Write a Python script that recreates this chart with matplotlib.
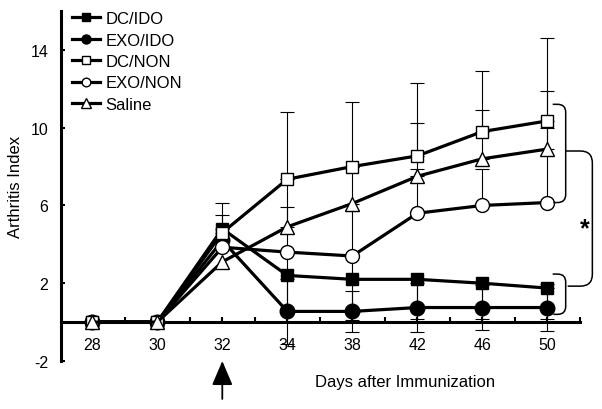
import matplotlib
matplotlib.use("Agg")
import matplotlib.pyplot as plt
import numpy as np
from matplotlib.path import Path
from matplotlib.patches import PathPatch

plt.rcParams["font.family"] = ["Liberation Sans", "DejaVu Sans"]
plt.rcParams["axes.unicode_minus"] = False

days = ["28", "30", "32", "34", "38", "42", "46", "50"]

dc_ido = [0, 0, 4.8, 2.4, 2.2, 2.2, 2.0, 1.75]
exo_ido = [0, 0, 4.2, 0.55, 0.55, 0.75, 0.75, 0.75]
dc_non = [0, 0, 4.6, 7.35, 8.0, 8.55, 9.8, 10.35]
exo_non = [0, 0, 3.85, 3.6, 3.4, 5.6, 6.0, 6.15]
saline = [0, 0, 3.1, 4.9, 6.1, 7.5, 8.4, 8.9]

# error bars (lower, upper)
dc_ido_lo = [0, 0, 0, 1.9, 2.1, 2.05, 1.85, 1.6]
dc_ido_hi = [0, 0, 1.35, 1.2, 1.2, 0, 0, 0]
exo_ido_lo = [0, 0, 0, 1.65, 1.05, 1.25, 1.15, 1.2]
exo_ido_hi = [0, 0, 0, 1.65, 1.05, 1.25, 1.15, 1.2]
dc_non_hi = [0, 0, 0.9, 3.45, 3.3, 3.75, 3.1, 4.25]
exo_non_hi = [0, 0, 0, 2.3, 2.3, 2.3, 1.9, 3.85]
saline_hi = [0, 0, 0, 2.45, 1.9, 2.75, 2.5, 3.0]

# significance bracket levels
sig_top = 8.8
sig_bot = 1.85

fig = plt.figure(figsize=(6.02, 4.10), dpi=100)
ax = fig.add_axes([61 / 602, 48 / 410, 519 / 602, 350 / 410])
x = np.arange(len(days))
ax.set_xlim(-0.48, 7.5)
ax.set_ylim(-2, 16)


def draw_series(y, lo, hi, marker, ms, filled, label, z):
    y = np.asarray(y, float)
    lo = np.asarray(lo, float)
    hi = np.asarray(hi, float)
    keep = (lo > 0) | (hi > 0)
    ax.errorbar(x[keep], y[keep], yerr=[lo[keep], hi[keep]], fmt="none",
                ecolor="black", elinewidth=0.8, capsize=5, capthick=0.8, zorder=1)
    line, = ax.plot(x, y, color="black", lw=2.3, marker=marker, ms=ms,
                    mfc="black" if filled else "white", mec="black", mew=1.0,
                    label=label, zorder=z)
    return line


zeros = [0] * len(days)
h_exo_ido = draw_series(exo_ido, exo_ido_lo, exo_ido_hi, "o", 10.5, True, "EXO/IDO", 3)
h_dc_ido = draw_series(dc_ido, dc_ido_lo, dc_ido_hi, "s", 9, True, "DC/IDO", 4)
h_exo_non = draw_series(exo_non, zeros, exo_non_hi, "o", 10, False, "EXO/NON", 5)
h_dc_non = draw_series(dc_non, zeros, dc_non_hi, "s", 9, False, "DC/NON", 6)
h_saline = draw_series(saline, zeros, saline_hi, "^", 10.5, False, "Saline", 7)

# axes styling
for s in ["top", "right"]:
    ax.spines[s].set_visible(False)
ax.spines["bottom"].set_position(("data", 0))
ax.spines["bottom"].set_linewidth(2.2)
ax.spines["left"].set_linewidth(2.2)
ax.set_xticks(x)
ax.set_xticklabels(days)
ax.set_xticks(np.arange(0.5, 7.6, 1.0), minor=True)
ax.set_yticks([-2, 2, 6, 10, 14])
ax.tick_params(axis="x", which="both", direction="in", length=3.5, width=1.5, labelsize=11.5, pad=11)
ax.tick_params(axis="y", direction="in", length=3, width=1.5, labelsize=11.5, pad=9)

ax.set_ylabel("Arthritis Index", fontsize=12)
ax.yaxis.set_label_coords(-0.074, 0.5)
fig.text(405 / 602, 1 - 383 / 410, "Days after Immunization", fontsize=12,
         ha="center", va="center")

leg = ax.legend(handles=[h_dc_ido, h_exo_ido, h_dc_non, h_exo_non, h_saline],
                loc="upper left", bbox_to_anchor=(72 / 602, 1 - 12 / 410),
                bbox_transform=fig.transFigure, frameon=False, fontsize=12,
                markerscale=0.62, handlelength=1.68, handletextpad=0.33,
                labelspacing=0.39, borderpad=0, borderaxespad=0)

# arrow marking day 32
ax.annotate("", xy=(2, -2.0), xytext=(2, -3.95),
            arrowprops=dict(arrowstyle="-|>,head_width=0.32,head_length=0.75",
                            mutation_scale=20, lw=1.3, color="black",
                            shrinkA=0, shrinkB=0),
            annotation_clip=False)

# rounded brackets
px_x = ax.bbox.width / (ax.get_xlim()[1] - ax.get_xlim()[0])
px_y = ax.bbox.height / (ax.get_ylim()[1] - ax.get_ylim()[0])


def bracket(x_top, x_bot, xv, y_top, y_bot, r=8):
    rx, ry = r / px_x, r / px_y
    verts = [(x_top, y_top), (xv - rx, y_top), (xv, y_top), (xv, y_top - ry),
             (xv, y_bot + ry), (xv, y_bot), (xv - rx, y_bot), (x_bot, y_bot)]
    codes = [Path.MOVETO, Path.LINETO, Path.CURVE3, Path.CURVE3,
             Path.LINETO, Path.CURVE3, Path.CURVE3, Path.LINETO]
    ax.add_patch(PathPatch(Path(verts, codes), fc="none", ec="black", lw=1.1,
                           clip_on=False, zorder=8))


last = len(days) - 1
bracket(last + 0.08, last + 0.09, last + 0.28, dc_non[-1] + 0.85, exo_non[-1])
bracket(last + 0.08, last + 0.09, last + 0.28, dc_ido[-1] + 0.72, exo_ido[-1] - 0.35)
bracket(last + 0.28, last + 0.31, last + 0.69, sig_top, sig_bot, r=12)
ax.text(last + 0.58, (sig_top + sig_bot) / 2 - 0.5, "*", fontsize=18,
        fontweight="bold", ha="center", va="center")

fig.savefig("out.png", dpi=100)
